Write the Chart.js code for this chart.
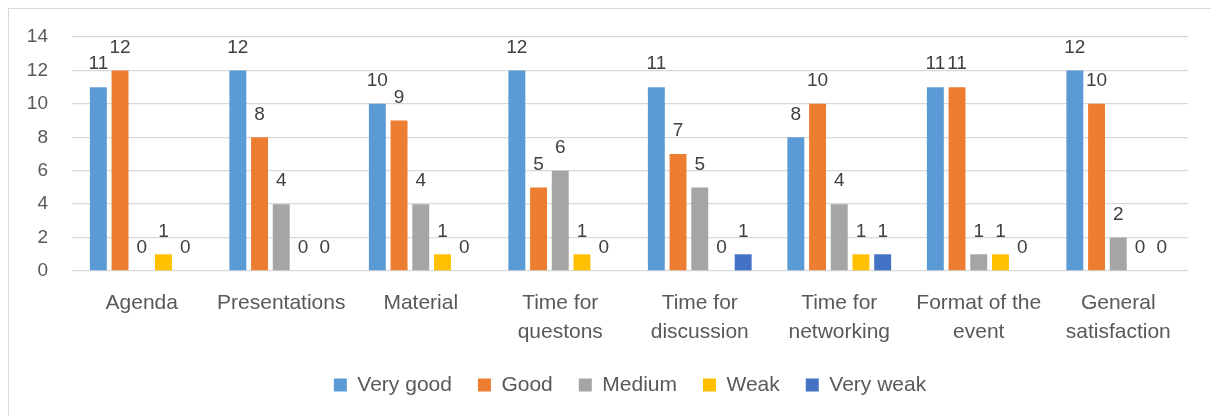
<!DOCTYPE html>
<html>
<head>
<meta charset="utf-8">
<script src="https://cdn.jsdelivr.net/npm/chart.js@4/dist/chart.umd.min.js"></script>
<style>
  body { margin: 0; background: #fff; }
  #wrap { position: relative; width: 1211px; height: 416px; overflow: hidden; }
  #grafica { position: absolute; left: 0; top: 0; }
  #marco { position: absolute; left: 8px; top: 8px; width: 1300px; height: 500px;
           border-left: 1px solid #d9d9d9; border-top: 1px solid #d9d9d9; pointer-events: none; }
</style>
</head>
<body>
<div id="wrap">
  <canvas id="grafica" width="1211" height="416"></canvas>
  <div id="marco"></div>
</div>
<script>
// Datos de la encuesta
const categorias = [
  "Agenda", "Presentations", "Material", ["Time for", "questons"],
  ["Time for", "discussion"], ["Time for", "networking"],
  ["Format of the", "event"], ["General", "satisfaction"]
];
const veryGood = [11, 12, 10, 12, 11, 8, 11, 12];
const good     = [12, 8, 9, 5, 7, 10, 11, 10];
const medium   = [0, 4, 4, 6, 5, 4, 1, 2];
const weak     = [1, 0, 1, 1, 0, 1, 1, 0];
const veryWeak = [0, 0, 0, 0, 1, 1, 0, 0];
const ticksY   = [0, 2, 4, 6, 8, 10, 12, 14];

const fuente = "'Liberation Sans', Arial, sans-serif";

// Etiquetas de valor encima de cada barra
const etiquetasValor = {
  id: 'etiquetasValor',
  afterDatasetsDraw(chart) {
    const ctx = chart.ctx;
    ctx.save();
    ctx.font = "19px " + fuente;
    ctx.fillStyle = '#404040';
    ctx.textAlign = 'center';
    ctx.textBaseline = 'middle';
    chart.data.datasets.forEach((ds, i) => {
      chart.getDatasetMeta(i).data.forEach((bar, j) => {
        ctx.fillText(ds.data[j], bar.x, bar.y - 23);
      });
    });
    ctx.restore();
  }
};

new Chart(document.getElementById("grafica"), {
  type: 'bar',
  data: {
    labels: categorias,
    datasets: [
      { label: "Very good", data: veryGood, backgroundColor: '#5B9BD5' },
      { label: "Good", data: good, backgroundColor: '#ED7D31' },
      { label: "Medium", data: medium, backgroundColor: '#A5A5A5' },
      { label: "Weak", data: weak, backgroundColor: '#FFC000' },
      { label: "Very weak", data: veryWeak, backgroundColor: '#4472C4' }
    ]
  },
  options: {
    responsive: false,
    animation: false,
    devicePixelRatio: 1,
    datasets: { bar: { categoryPercentage: 0.778, barPercentage: 0.78 } },
    layout: { padding: { left: 0, right: 23, top: 37, bottom: 10.5 } },
    scales: {
      x: {
        grid: { display: false },
        border: { display: false },
        ticks: {
          color: '#595959', padding: 10, maxRotation: 0, autoSkip: false,
          font: { family: fuente, size: 21, lineHeight: 1.36 }
        },
        afterFit(scale) { scale.height = 77.5; }
      },
      y: {
        min: 0, max: 14,
        grid: { color: '#d9d9d9', lineWidth: 1.3, drawTicks: false },
        border: { display: false },
        afterBuildTicks(scale) { scale.ticks = ticksY.map(v => ({ value: v })); },
        ticks: {
          color: '#595959', padding: 24,
          font: { family: fuente, size: 19 }
        },
        afterFit(scale) { scale.width = 72; }
      }
    },
    plugins: {
      legend: {
        position: 'bottom',
        fullSize: false,
        labels: {
          boxWidth: 13, boxHeight: 13, padding: 26, color: '#595959',
          font: { family: fuente, size: 21 }
        }
      },
      tooltip: { enabled: false }
    }
  },
  plugins: [etiquetasValor]
});
</script>
</body>
</html>
